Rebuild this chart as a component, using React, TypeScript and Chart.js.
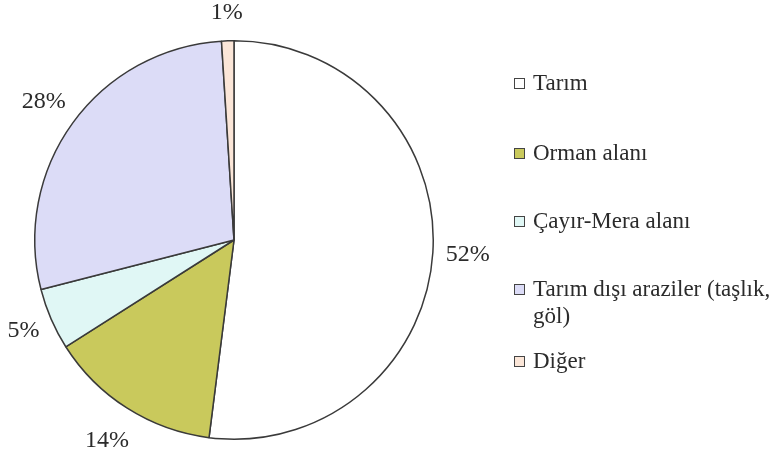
import React, { useEffect, useRef } from "react";
import { Chart, registerables } from "chart.js";

Chart.register(...registerables);

const categories = [
  "Tarım",
  "Orman alanı",
  "Çayır-Mera alanı",
  "Tarım dışı araziler (taşlık, göl)",
  "Diğer",
];
const shares = [52, 14, 5, 28, 1];
const sliceColors = ["#ffffff", "#c9c95c", "#e0f7f5", "#dcdcf7", "#fbe6d8"];

const FONT = "'Liberation Serif', 'DejaVu Serif', serif";
const TEXT_COLOR = "#2b2b2b";
const EDGE = "#3a3a3a";

const labelPlugin = {
  id: "outerLabels",
  afterDatasetsDraw(chart: any, _args: any, opts: any) {
    const ctx = chart.ctx;
    const meta = chart.getDatasetMeta(0);
    const data = chart.data.datasets[0].data;
    ctx.save();
    ctx.font = `24px ${FONT}`;
    ctx.fillStyle = TEXT_COLOR;
    ctx.textAlign = "center";
    ctx.textBaseline = "middle";
    meta.data.forEach((arc: any, i: number) => {
      const p = arc.getProps(["x", "y", "startAngle", "endAngle", "outerRadius"], true);
      const mid = (p.startAngle + p.endAngle) / 2;
      const r = p.outerRadius + (opts.offsets[i] ?? 33);
      ctx.fillText(`${data[i]}%`, p.x + Math.cos(mid) * r, p.y + Math.sin(mid) * r);
    });
    ctx.restore();
  },
};

const legendPlugin = {
  id: "customLegend",
  afterDraw(chart: any, _args: any, opts: any) {
    const ctx = chart.ctx;
    const labels = chart.data.labels as string[];
    const colors = chart.data.datasets[0].backgroundColor as string[];
    const boxX = opts.x;
    const textX = opts.x + 19;
    const maxW = chart.width - textX;
    ctx.save();
    ctx.font = `23px ${FONT}`;
    ctx.textBaseline = "middle";
    ctx.textAlign = "left";
    labels.forEach((label, i) => {
      const y = opts.rows[i];
      ctx.fillStyle = colors[i];
      ctx.fillRect(boxX, Math.round(y - 5.5), 11, 11);
      ctx.strokeStyle = "#444";
      ctx.lineWidth = 1;
      ctx.strokeRect(boxX + 0.5, Math.round(y - 5.5) + 0.5, 10, 10);
      const words = label.split(" ");
      const lines: string[] = [];
      let cur = "";
      words.forEach((w) => {
        const t = cur ? cur + " " + w : w;
        if (ctx.measureText(t).width > maxW && cur) {
          lines.push(cur);
          cur = w;
        } else cur = t;
      });
      if (cur) lines.push(cur);
      ctx.fillStyle = TEXT_COLOR;
      lines.forEach((ln, k) => ctx.fillText(ln, textX, y + 1 + k * 27));
    });
    ctx.restore();
  },
};

export default function App() {
  const ref = useRef<HTMLCanvasElement>(null);
  useEffect(() => {
    if (!ref.current) return;
    const chart = new Chart(ref.current, {
      type: "pie",
      data: {
        labels: categories,
        datasets: [
          { data: shares, backgroundColor: sliceColors, borderColor: EDGE, borderWidth: 1.5 },
        ],
      },
      options: {
        animation: false,
        responsive: false,
        maintainAspectRatio: false,
        layout: { padding: { left: 34, top: 40, right: 343, bottom: 17 } },
        plugins: {
          legend: { display: false },
          tooltip: { enabled: false },
          outerLabels: { offsets: [35, 38, 30, 36, 28] },
          customLegend: { x: 514, rows: [83, 153, 221, 289, 361] },
        } as any,
      },
      plugins: [labelPlugin, legendPlugin],
    });
    return () => chart.destroy();
  }, []);
  return (
    <div style={{ position: "fixed", left: 0, top: 0, width: 777, height: 457, background: "#fff" }}>
      <canvas ref={ref} width={777} height={457} style={{ width: 777, height: 457, display: "block" }} />
    </div>
  );
}
